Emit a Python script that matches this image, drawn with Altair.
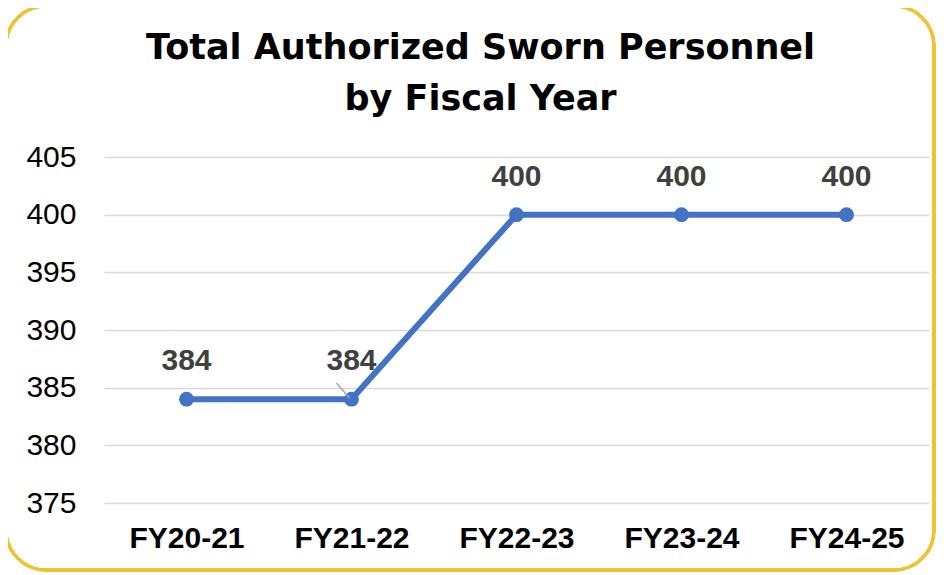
import altair as alt
import pandas as pd

years = ["FY20-21", "FY21-22", "FY22-23", "FY23-24", "FY24-25"]
personnel = [384, 384, 400, 400, 400]

# leader line for the second data label
leader_year = ["FY21-22"]
leader_from = [385.4]
leader_to = [384.1]

df = pd.DataFrame({"year": years, "value": personnel})
ldf = pd.DataFrame({"year": leader_year, "y1": leader_from, "y2": leader_to})

W, H = 825, 346
PL, PT, PR, PB = 96, 149, 7, 58

x_axis = alt.Axis(labelAngle=0, labelAlign="center", labelBaseline="top",
                  labelFont="Liberation Sans", labelFontSize=30,
                  labelFontWeight="bold", labelColor="#000000", labelPadding=20,
                  ticks=False, domain=False, grid=False)
x_scale = alt.Scale(type="point", padding=0.5)
y_axis = alt.Axis(values=[375, 380, 385, 390, 395, 400, 405], labelFont="Liberation Sans",
                  labelFontSize=30, labelColor="#000000", labelPadding=28,
                  ticks=False, domain=False, gridColor="#d9d9d9", gridWidth=1.5)
y_scale = alt.Scale(domain=[375, 405], nice=False, zero=False)

x = alt.X("year:O", sort=years, title=None, scale=x_scale, axis=x_axis)
y = alt.Y("value:Q", title=None, scale=y_scale, axis=y_axis)

base = alt.Chart(df).encode(x=x, y=y)

line = base.mark_line(color="#4472C4", strokeWidth=6)
pts = base.mark_circle(color="#4472C4", size=220, opacity=1)
labels = base.mark_text(dy=-38, font="Liberation Sans", fontSize=30, fontWeight="bold",
                        color="#404040").encode(text="value:Q")

leader = alt.Chart(ldf).mark_rule(color="#a6a6a6", strokeWidth=1.5, xOffset=-15, x2Offset=-2).encode(
    x=alt.X("year:O", sort=years, title=None, scale=x_scale, axis=x_axis), x2="year:O",
    y=alt.Y("y1:Q", title=None, scale=y_scale, axis=y_axis), y2="y2:Q")

border = alt.Chart(df).mark_rect(fill=None, stroke="#F2C12E", strokeWidth=3, cornerRadius=40).encode(
    x=alt.value(-PL - 2), x2=alt.value(W + PR - 2),
    y=alt.value(-PT - 2), y2=alt.value(H + 67))

chart = alt.layer(line, pts, leader, labels, border).properties(
    width=W, height=H,
    autosize=alt.AutoSizeParams(type="none"),
    padding={"left": PL, "top": PT, "right": PR, "bottom": PB + 12},
    title=alt.TitleParams(["Total Authorized Sworn Personnel", "by Fiscal Year"],
                          font="DejaVu Sans", fontSize=35, fontWeight="bold",
                          color="#000000", anchor="middle", dx=-36, offset=0, dy=112,
                          lineHeight=51),
).configure_view(stroke=None)

chart.save("out.html", embed_options={"renderer": "svg", "actions": False})
